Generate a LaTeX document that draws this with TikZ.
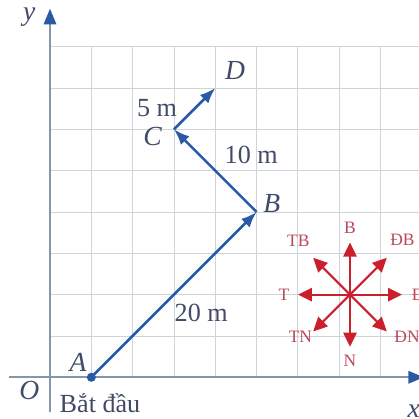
\documentclass[tikz,border=0pt]{standalone}
\usepackage{fontspec}
\setmainfont{Liberation Serif}
\usetikzlibrary{arrows.meta, positioning, calc}
\definecolor{vecblue}{HTML}{2A5AA6}
\definecolor{axisgray}{HTML}{8497AA}
\definecolor{gridgray}{HTML}{CDD4DC}
\definecolor{labelink}{HTML}{414B68}
\definecolor{compassred}{HTML}{CC1F2D}
\definecolor{compassink}{HTML}{B8485A}

\tikzset{
  vec/.style={draw=vecblue, line width=1.8pt, -{Latex[length=3.8mm, width=2.9mm]}},
  axisline/.style={draw=axisgray, line width=1.5pt, -{Triangle[length=3.8mm, width=3mm, color=vecblue]}},
  ptlabel/.style={text=labelink, font=\itshape\fontsize{19}{19}\selectfont},
  distlabel/.style={text=labelink, font=\fontsize{18}{18}\selectfont},
  dirarrow/.style={draw=compassred, line width=1.5pt, -{Triangle[length=3.4mm, width=3.2mm]}},
  dirlabel/.style={text=compassink, font=\fontsize{12}{12}\selectfont, inner sep=0pt}
}

\begin{document}
\begin{tikzpicture}
  \clip (-1.21,-0.99) rectangle (8.93,9.13);

  % luoi o vuong
  \draw[gridgray, line width=0.6pt] (0,0) grid (9.5,8);

  % truc toa do
  \coordinate (O) at (0,0);
  \coordinate (xend) at (9.05,0);
  \coordinate (yend) at (0,8.92);
  \draw[axisline] (-1,0) -- (xend);
  \draw[axisline] (0,-0.85) -- (yend);
  \node[ptlabel] (ylab) at (-0.5,8.72) {y};
  \node[ptlabel] (xlab) at (8.8,-0.82) {x};
  \node[ptlabel] (olab) at (-0.5,-0.33) {O};

  % cac diem
  \coordinate (A) at (1,0);
  \coordinate (B) at (5,4);
  \coordinate (C) at (3,6);
  \coordinate (D) at (4,7);
  \fill[vecblue] (A) circle (0.11);

  \draw[vec] (A) -- (B);
  \draw[vec] (B) -- (C);
  \draw[vec] (C) -- (D);

  \node[ptlabel] (Alab) at (0.68,0.36) {A};
  \node[ptlabel] (Blab) at (5.37,4.21) {B};
  \node[ptlabel] (Clab) at (2.48,5.83) {C};
  \node[ptlabel] (Dlab) at (4.48,7.43) {D};
  \node[distlabel] (start) at (1.21,-0.62) {Bắt đầu};
  \node[distlabel] (dAB) at (3.66,1.55) {20 m};
  \node[distlabel] (dBC) at (4.87,5.38) {10 m};
  \node[distlabel] (dCD) at (2.59,6.51) {5 m};

  % la ban
  \coordinate (ctr) at (7.26,2);
  \foreach \ang in {0,45,...,315}{
    \path (ctr) ++(\ang:1.26) coordinate (tip\ang);
    \draw[dirarrow] (ctr) -- (tip\ang);
  }
  \node[dirlabel] (nB) at ($(ctr)+(0,1.62)$) {B};
  \node[dirlabel] (nN) at ($(ctr)+(0,-1.6)$) {N};
  \node[dirlabel] (nT) at ($(ctr)+(-1.6,0)$) {T};
  \node[dirlabel] (nD) at ($(ctr)+(1.65,0)$) {Đ};
  \node[dirlabel] (nTB) at ($(ctr)+(-1.25,1.3)$) {TB};
  \node[dirlabel] (nDB) at ($(ctr)+(1.27,1.32)$) {ĐB};
  \node[dirlabel] (nTN) at ($(ctr)+(-1.2,-1.02)$) {TN};
  \node[dirlabel] (nDN) at ($(ctr)+(1.38,-1.02)$) {ĐN};
\end{tikzpicture}
\end{document}
